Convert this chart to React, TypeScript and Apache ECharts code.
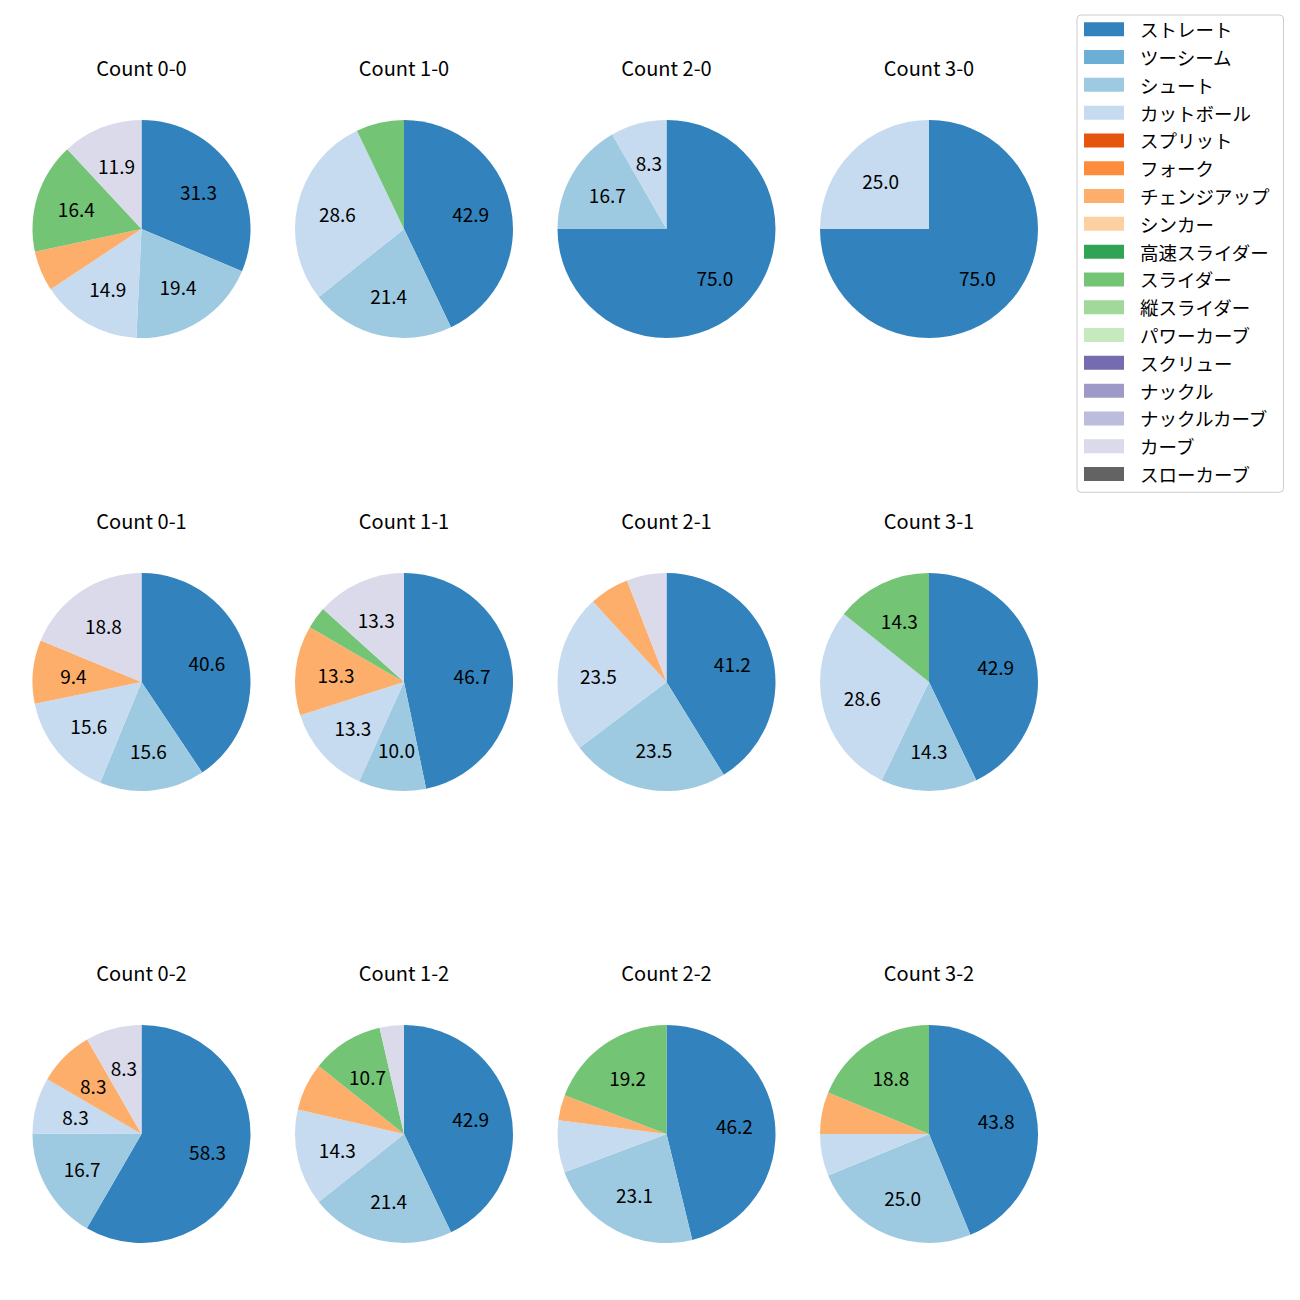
import React, { useEffect, useRef } from 'react';
import * as echarts from 'echarts';

const pitchTypes = [
  'ストレート', 'ツーシーム', 'シュート', 'カットボール', 'スプリット', 'フォーク',
  'チェンジアップ', 'シンカー', '高速スライダー', 'スライダー', '縦スライダー',
  'パワーカーブ', 'スクリュー', 'ナックル', 'ナックルカーブ', 'カーブ', 'スローカーブ',
];
const pitchColors = [
  '#3182bd', '#6baed6', '#9ecae1', '#c6dbef', '#e6550d', '#fd8d3c',
  '#fdae6b', '#fdd0a2', '#31a354', '#74c476', '#a1d99b',
  '#c7e9c0', '#756bb1', '#9e9ac8', '#bcbddc', '#dadaeb', '#636363',
];

const countTitles = [
  'Count 0-0', 'Count 1-0', 'Count 2-0', 'Count 3-0',
  'Count 0-1', 'Count 1-1', 'Count 2-1', 'Count 3-1',
  'Count 0-2', 'Count 1-2', 'Count 2-2', 'Count 3-2',
];

// share (%) per pitch type, in the order of pitchTypes
const count00 = [31.3, 0, 19.4, 14.9, 0, 0, 6.0, 0, 0, 16.4, 0, 0, 0, 0, 0, 11.9, 0];
const count10 = [42.9, 0, 21.4, 28.6, 0, 0, 0, 0, 0, 7.1, 0, 0, 0, 0, 0, 0, 0];
const count20 = [75.0, 0, 16.7, 8.3, 0, 0, 0, 0, 0, 0, 0, 0, 0, 0, 0, 0, 0];
const count30 = [75.0, 0, 0, 25.0, 0, 0, 0, 0, 0, 0, 0, 0, 0, 0, 0, 0, 0];
const count01 = [40.6, 0, 15.6, 15.6, 0, 0, 9.4, 0, 0, 0, 0, 0, 0, 0, 0, 18.8, 0];
const count11 = [46.7, 0, 10.0, 13.3, 0, 0, 13.3, 0, 0, 3.3, 0, 0, 0, 0, 0, 13.3, 0];
const count21 = [41.2, 0, 23.5, 23.5, 0, 0, 5.9, 0, 0, 0, 0, 0, 0, 0, 0, 5.9, 0];
const count31 = [42.9, 0, 14.3, 28.6, 0, 0, 0, 0, 0, 14.3, 0, 0, 0, 0, 0, 0, 0];
const count02 = [58.3, 0, 16.7, 8.3, 0, 0, 8.3, 0, 0, 0, 0, 0, 0, 0, 0, 8.3, 0];
const count12 = [42.9, 0, 21.4, 14.3, 0, 0, 7.1, 0, 0, 10.7, 0, 0, 0, 0, 0, 3.6, 0];
const count22 = [46.2, 0, 23.1, 7.7, 0, 0, 3.8, 0, 0, 19.2, 0, 0, 0, 0, 0, 0, 0];
const count32 = [43.8, 0, 25.0, 6.2, 0, 0, 6.2, 0, 0, 18.8, 0, 0, 0, 0, 0, 0, 0];

const countData = [
  count00, count10, count20, count30,
  count01, count11, count21, count31,
  count02, count12, count22, count32,
];

const FONT = '"Noto Sans CJK JP", "Noto Sans", sans-serif';

export default function App() {
  const ref = useRef<HTMLDivElement>(null);

  useEffect(() => {
    if (!ref.current) return;
    const chart = echarts.init(ref.current, null, { renderer: 'svg' });

    const colX = [141.5, 404, 666.5, 929];
    const rowY = [229, 682, 1134];
    const R = 109;

    const titles: any[] = [];
    const series: any[] = [];
    const labelSeries: any[] = [];

    countData.forEach((vals, i) => {
      const cx = colX[i % 4];
      const cy = rowY[Math.floor(i / 4)];
      titles.push({
        text: countTitles[i],
        left: cx,
        top: cy - 172,
        padding: 0,
        textAlign: 'center',
        textStyle: { fontSize: 20, fontWeight: 'normal', color: '#000', fontFamily: FONT },
      });
      const data = pitchTypes.map((name, k) => ({
        name,
        value: vals[k],
        itemStyle: { color: pitchColors[k] },
      }));
      series.push({
        type: 'pie',
        name: countTitles[i],
        center: [cx, cy],
        radius: [0, R],
        startAngle: 90,
        clockwise: true,
        avoidLabelOverlap: false,
        label: { show: false },
        labelLine: { show: false },
        itemStyle: { borderWidth: 0 },
        emphasis: { disabled: true },
        data,
      });
      labelSeries.push({
        type: 'pie',
        name: countTitles[i] + ' labels',
        center: [cx, cy],
        radius: [0, R * 1.2],
        startAngle: 90,
        clockwise: true,
        silent: true,
        avoidLabelOverlap: false,
        itemStyle: { color: 'rgba(0,0,0,0)', borderWidth: 0 },
        emphasis: { disabled: true },
        labelLine: { show: false },
        label: {
          show: true,
          position: 'inside',
          color: '#000',
          fontSize: 19,
          fontFamily: FONT,
          formatter: (p: any) => (p.value >= 8 ? Number(p.value).toFixed(1) : ''),
        },
        data: pitchTypes.map((name, k) => ({ name, value: vals[k] })),
      });
    });

    chart.setOption({
      animation: false,
      title: titles,
      legend: {
        orient: 'vertical',
        left: 1077,
        top: 15,
        padding: [5, 14, 9, 7],
        itemWidth: 40,
        itemHeight: 14,
        itemGap: 9.3,
        icon: 'rect',
        borderColor: '#cccccc',
        borderWidth: 1,
        borderRadius: 4,
        textStyle: {
          fontSize: 18.5,
          color: '#000',
          fontFamily: FONT,
          padding: [0, 0, 0, 11],
        },
        data: pitchTypes,
      },
      series: [...series, ...labelSeries],
    });

    return () => chart.dispose();
  }, []);

  return (
    <div
      ref={ref}
      style={{ position: 'absolute', left: 0, top: 0, width: 1300, height: 1300, background: '#fff' }}
    />
  );
}
